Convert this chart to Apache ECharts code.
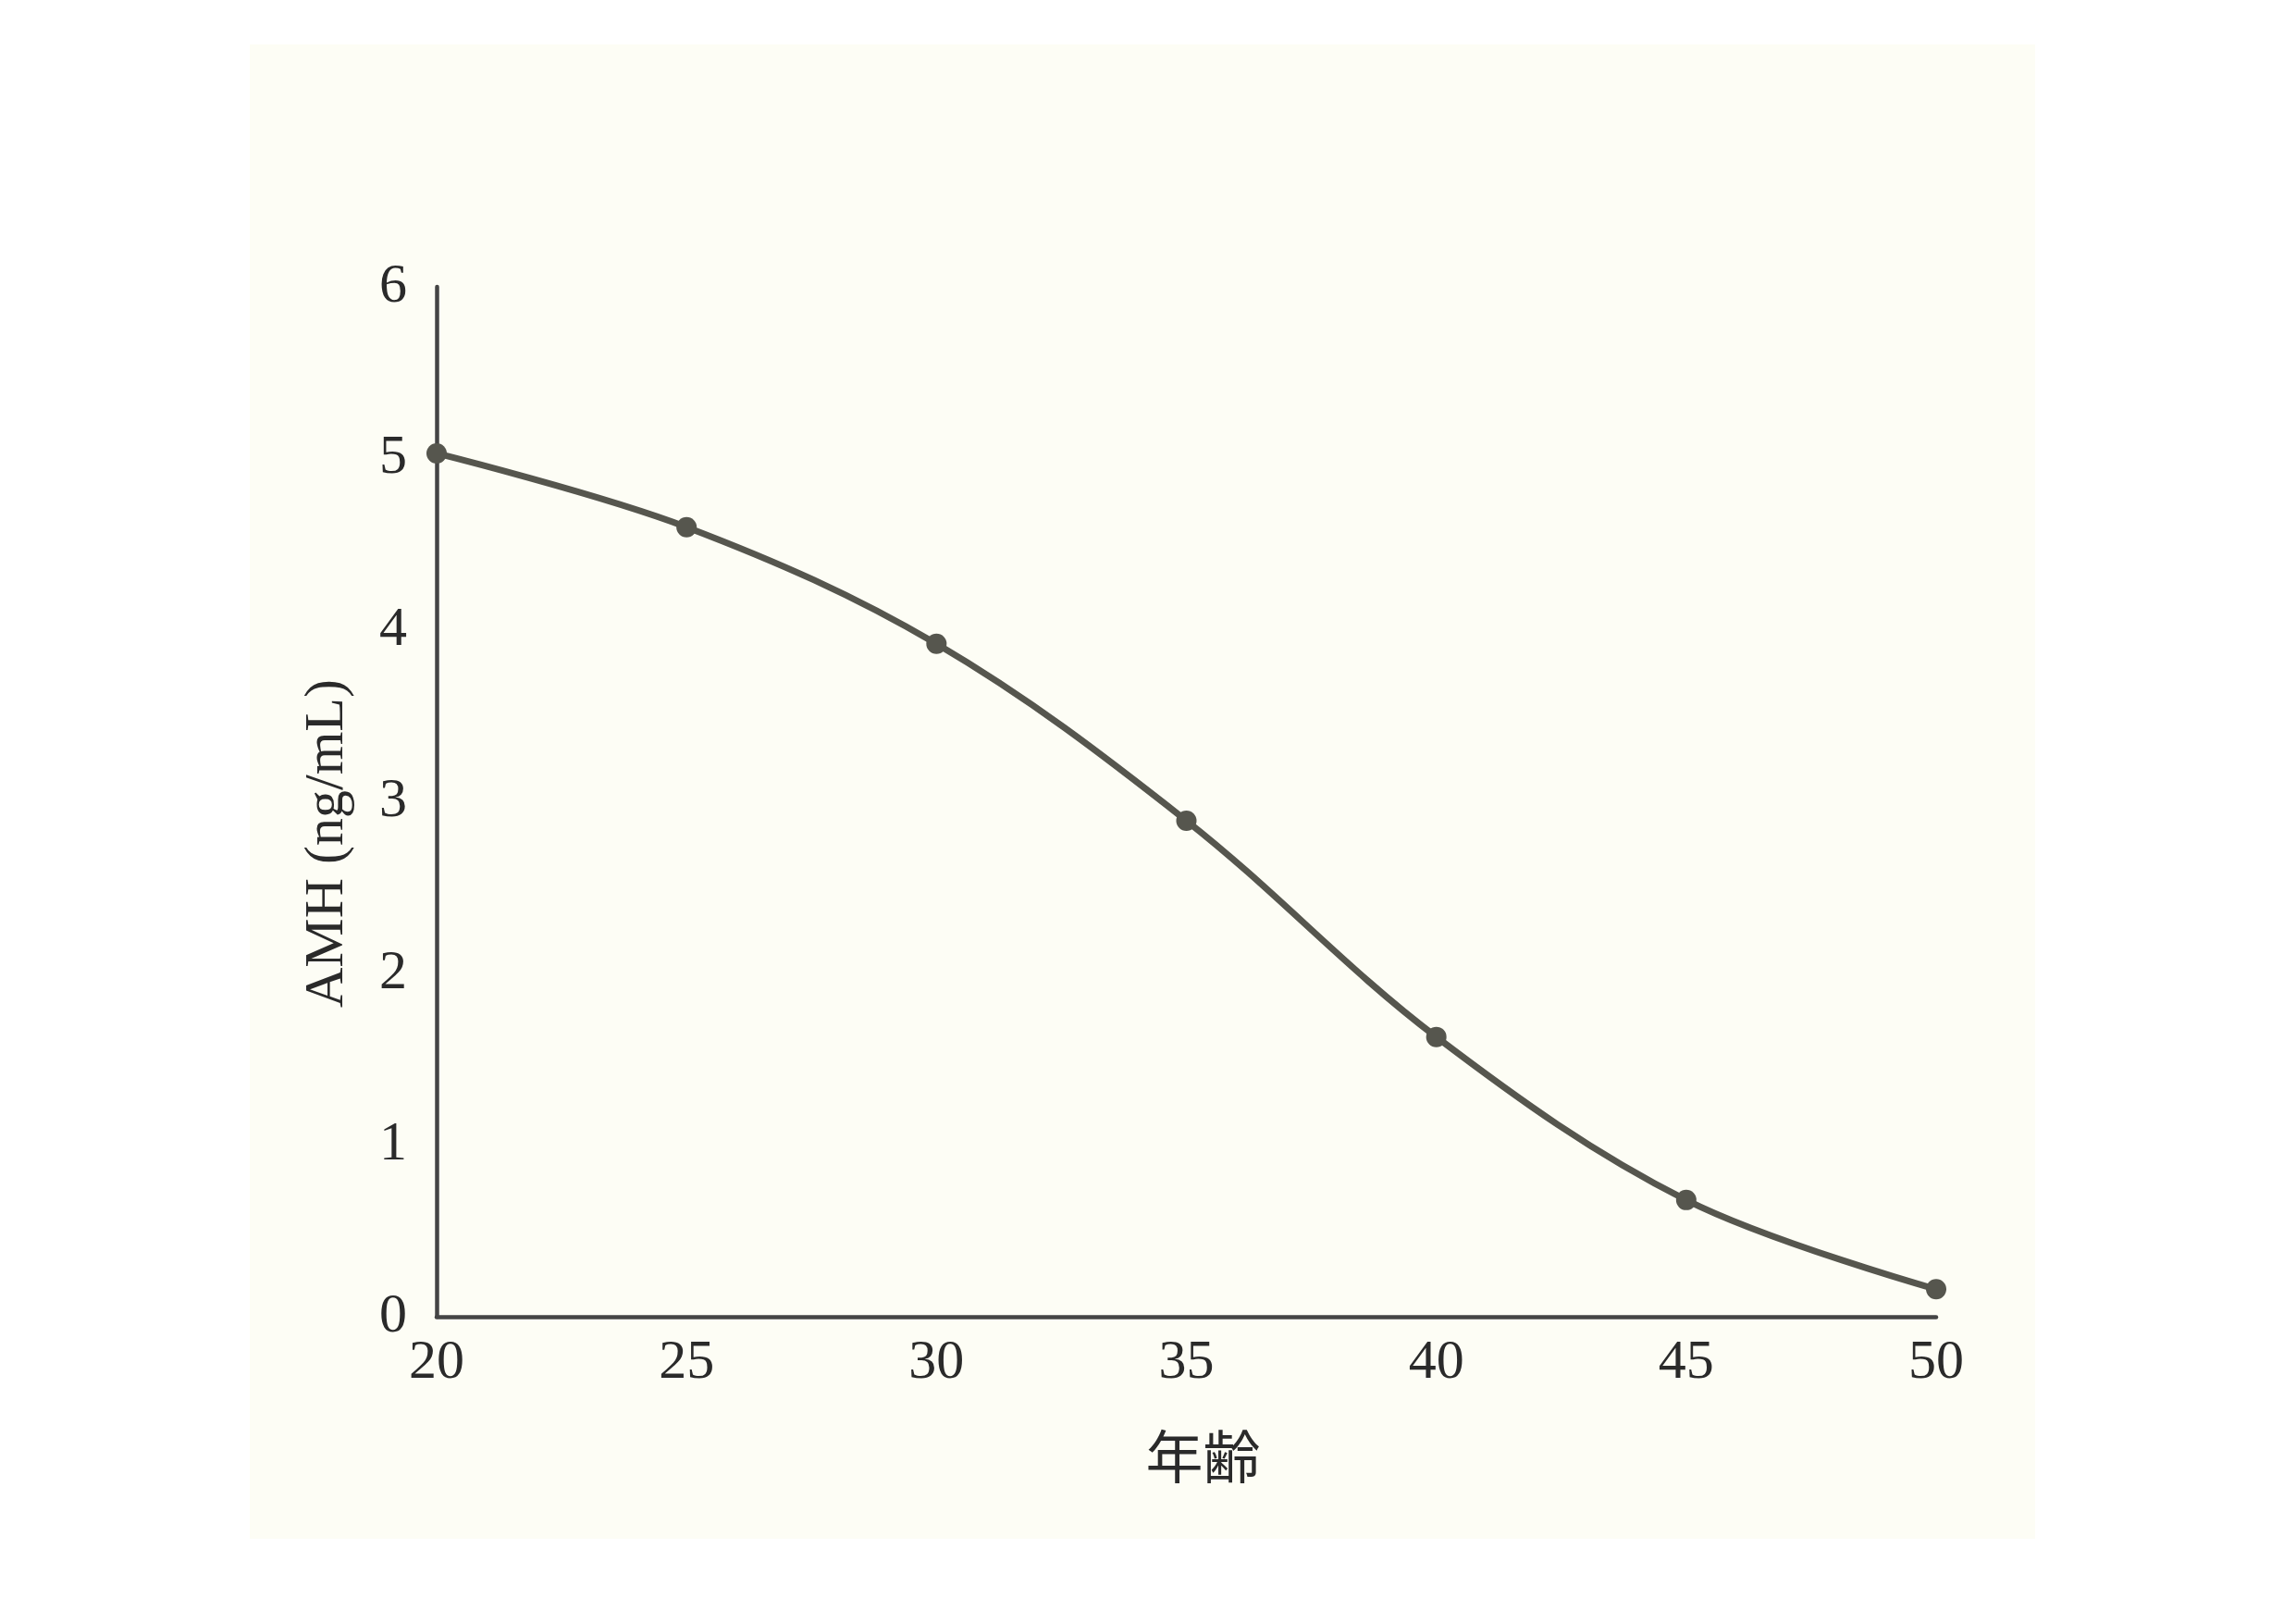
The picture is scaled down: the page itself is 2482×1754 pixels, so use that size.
<!DOCTYPE html>
<html>
<head>
<meta charset="utf-8">
<script src="https://cdn.jsdelivr.net/npm/echarts@6/dist/echarts.min.js"></script>
<style>
html,body{margin:0;padding:0;background:#ffffff;}
#main{width:2482px;height:1754px;}
</style>
</head>
<body>
<div id="main"></div>
<script>
const ages = [20, 25, 30, 35, 40, 45, 50];
const amh = [5.03, 4.60, 3.92, 2.89, 1.63, 0.68, 0.16];
const xTicks = [20, 25, 30, 35, 40, 45, 50];
const yTicks = [0, 1, 2, 3, 4, 5, 6];
const xName = '年齢';
const yName = 'AMH (ng/mL)';

const chart = echarts.init(document.getElementById('main'), null, {renderer: 'canvas'});
const ink = '#2a2a2a';
const serif = '"Liberation Serif", "DejaVu Serif", serif';
chart.setOption({
  backgroundColor: '#ffffff',
  animation: false,
  graphic: [{
    type: 'rect', z: -10, silent: true,
    shape: {x: 270, y: 48, width: 1930, height: 1615},
    style: {fill: '#fdfdf5'}
  }],
  grid: {left: 472, right: 389, top: 310, bottom: 331, containLabel: false},
  xAxis: {
    type: 'value', min: xTicks[0], max: xTicks[xTicks.length - 1], interval: 5,
    name: xName, nameLocation: 'middle', nameGap: 120,
    nameTextStyle: {fontFamily: '"Noto Sans CJK JP", sans-serif', fontSize: 62, color: ink, padding: [0, 0, 0, 36]},
    axisLine: {show: true, onZero: false, lineStyle: {color: '#444444', width: 4.5}},
    axisTick: {show: false},
    splitLine: {show: false},
    axisLabel: {fontFamily: serif, fontSize: 60, color: ink, margin: 20,
      formatter: v => xTicks.includes(v) ? String(v) : ''}
  },
  yAxis: {
    type: 'value', min: yTicks[0], max: yTicks[yTicks.length - 1], interval: 1,
    name: yName, nameLocation: 'middle', nameGap: 88, nameRotate: 90,
    nameTextStyle: {fontFamily: serif, fontSize: 60, color: ink, padding: [0, 90, 0, 0]},
    axisLine: {show: true, onZero: false, lineStyle: {color: '#444444', width: 4.5}},
    axisTick: {show: false},
    splitLine: {show: false},
    axisLabel: {fontFamily: serif, fontSize: 60, color: ink, margin: 32,
      formatter: v => yTicks.includes(v) ? String(v) : ''}
  },
  series: [{
    type: 'line',
    data: ages.map((a, i) => [a, amh[i]]),
    smooth: 0.35,
    symbol: 'circle',
    symbolSize: 22,
    lineStyle: {color: '#56564e', width: 7},
    itemStyle: {color: '#56564e'},
    clip: false
  }]
});
</script>
</body>
</html>
